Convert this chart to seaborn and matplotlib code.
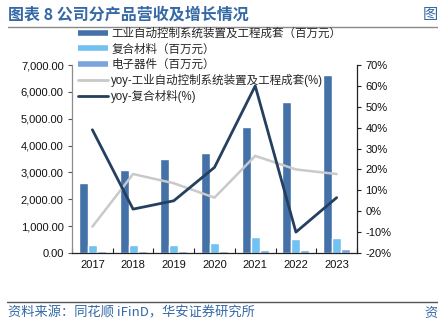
import numpy as np
import pandas as pd
import matplotlib
matplotlib.use("Agg")
import matplotlib.pyplot as plt
from matplotlib.lines import Line2D
import seaborn as sns

# Revenue by product line (million yuan) and yoy growth (%)
years = ["2017", "2018", "2019", "2020", "2021", "2022", "2023"]
automation_rev = [2620, 3090, 3500, 3710, 4700, 5620, 6620]
composite_rev = [290, 290, 300, 370, 600, 530, 570]
electronics_rev = [70, 80, 80, 90, 110, 130, 140]
automation_yoy = [-7.4, 17.8, 13.4, 6.5, 26.5, 20.0, 17.8]
composite_yoy = [39.0, 1.0, 5.0, 21.0, 60.0, -10.0, 6.5]

series_names = [
    "工业自动控制系统装置及工程成套（百万元）",
    "复合材料（百万元）",
    "电子器件（百万元）",
]
line_names = [
    "yoy-工业自动控制系统装置及工程成套(%)",
    "yoy-复合材料(%)",
]
bar_colors = ["#4472A8", "#71C1F1", "#7AA4DB"]
line_colors = ["#C9C9C9", "#243F60"]

sns.set_theme(style="white")
plt.rcParams["font.family"] = ["Liberation Sans", "Noto Sans CJK SC", "DejaVu Sans"]
plt.rcParams["axes.unicode_minus"] = False

bars = pd.DataFrame({
    "year": years * 3,
    "value": automation_rev + composite_rev + electronics_rev,
    "series": [series_names[0]] * 7 + [series_names[1]] * 7 + [series_names[2]] * 7,
})
lines = pd.DataFrame({
    "pos": list(range(len(years))) * 2,
    "yoy": automation_yoy + composite_yoy,
    "series": [line_names[0]] * 7 + [line_names[1]] * 7,
})

fig = plt.figure(figsize=(4.39, 3.23), dpi=100)
ax = fig.add_axes([72 / 439, 1 - 253 / 323, (357 - 72) / 439, (253 - 65) / 323])

sns.barplot(data=bars, x="year", y="value", hue="series", palette=bar_colors,
            width=0.66, gap=0, saturation=1, ax=ax, legend=False)
ax.set_ylim(0, 7000)
ax.set_xlim(-0.5, 6.5)
ax.set_yticks(np.arange(0, 7001, 1000))
ax.set_yticklabels([f"{v:,.2f}" for v in np.arange(0, 7001, 1000)])
ax.set_xlabel("")
ax.set_ylabel("")

ax2 = ax.twinx()
sns.lineplot(data=lines, x="pos", y="yoy", hue="series", palette=line_colors,
             ax=ax2, legend=False, linewidth=1.9)
for ln, lw in zip(ax2.get_lines(), [1.8, 2.0]):
    ln.set_linewidth(lw)
ax2.set_ylim(-20, 70)
ax2.set_yticks(np.arange(-20, 71, 10))
ax2.set_yticklabels([f"{v}%" for v in range(-20, 71, 10)])
ax2.set_xlim(-0.5, 6.5)
ax2.set_xlabel("")
ax2.set_ylabel("")

# spines and ticks
for a in (ax, ax2):
    a.spines["top"].set_visible(False)
ax.spines["right"].set_visible(False)
ax.spines["left"].set_color("#8C8C8C")
ax.spines["bottom"].set_color("#222222")
ax2.spines["left"].set_visible(False)
ax2.spines["bottom"].set_visible(False)
ax2.spines["right"].set_color("#222222")
for a in (ax, ax2):
    for s in a.spines.values():
        s.set_linewidth(0.9)

ax.tick_params(axis="y", direction="out", length=3, width=0.8, color="#555555",
               labelsize=8, labelcolor="#111111", pad=3, left=True)
ax.tick_params(axis="x", which="major", length=0, labelsize=8, labelcolor="#111111", pad=5)
ax.set_xticks(np.arange(-0.5, 7, 1), minor=True)
ax.tick_params(axis="x", which="minor", direction="in", length=3.5, width=0.8,
               color="#222222", bottom=True)
ax2.tick_params(axis="y", direction="out", length=3, width=0.8, color="#222222",
                labelsize=8, labelcolor="#111111", pad=3, right=True)

# legend
handles = [Line2D([0], [0], color=c, lw=4.0, solid_capstyle="butt") for c in bar_colors]
handles += [Line2D([0], [0], color=c, lw=2.0) for c in line_colors]
fig.legend(handles, series_names + line_names, loc="upper left",
           bbox_to_anchor=(78 / 439, 1 - 28 / 323), frameon=False, fontsize=8.3,
           handlelength=2.6, handletextpad=0.3, labelspacing=0.29,
           borderaxespad=0, borderpad=0)

# header and footer
blue = "#3468A6"
fig.text(8 / 439, 1 - 15 / 323, "图表 8 公司分产品营收及增长情况", color=blue,
         fontsize=11.5, fontweight="bold", family=["Noto Sans CJK SC"],
         va="center", ha="left")
fig.text(438 / 439, 1 - 15 / 323, "图", color=blue, fontsize=11,
         family=["Noto Sans CJK SC"], va="center", ha="right")
fig.add_artist(Line2D([8 / 439, 1.0], [1 - 26.5 / 323] * 2, color="#8A8A8A", lw=1.0))
fig.add_artist(Line2D([7 / 439, 1.0], [1 - 301.5 / 323] * 2, color="#555555", lw=1.0))
fig.text(8 / 439, 1 - 313 / 323, "资料来源：同花顺 iFinD，华安证券研究所", color=blue,
         fontsize=9.5, family=["Noto Sans CJK SC", "DejaVu Sans"], va="center", ha="left")
fig.text(438 / 439, 1 - 313 / 323, "资", color=blue, fontsize=9.5,
         family=["Noto Sans CJK SC"], va="center", ha="right")

fig.savefig("out.png", dpi=100)
